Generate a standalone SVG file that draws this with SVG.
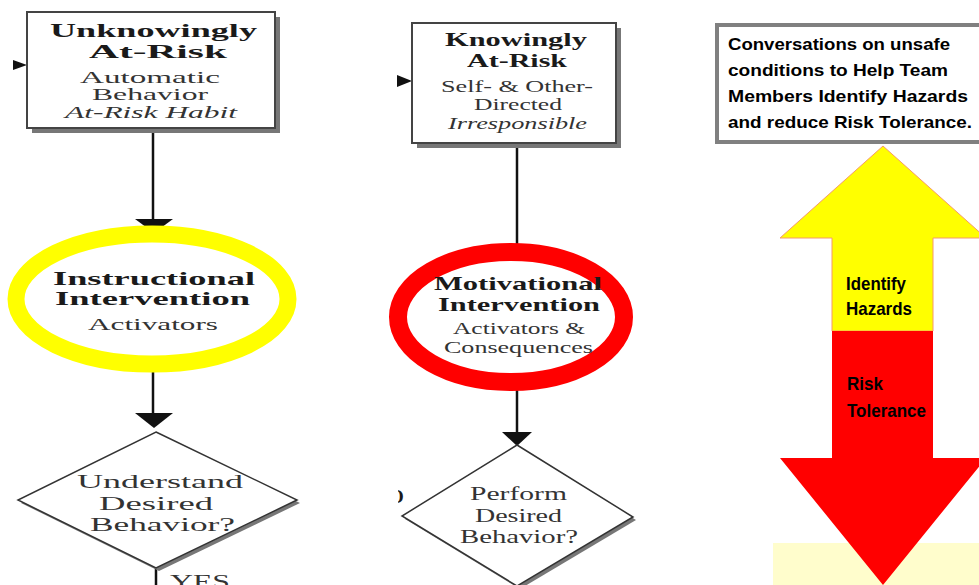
<svg xmlns="http://www.w3.org/2000/svg" width="979" height="585" viewBox="0 0 979 585">
<style>
.sb{font-family:"Liberation Serif","Times New Roman",serif;font-weight:bold;font-size:19px;fill:#1a1a1a}
.sr{font-family:"Liberation Serif","Times New Roman",serif;font-size:16px;fill:#333}
.si{font-family:"Liberation Serif","Times New Roman",serif;font-style:italic;font-size:16px;fill:#333}
.sd{font-family:"Liberation Serif","Times New Roman",serif;font-size:19px;fill:#333}
.cb{font-family:"Liberation Sans",Arial,sans-serif;font-weight:bold;font-size:17px;fill:#000}
.ab{font-family:"Liberation Sans",Arial,sans-serif;font-weight:bold;font-size:19px;fill:#000}
.box{fill:#fff;stroke:#444;stroke-width:2}
.shadow{fill:#777}
.dia{fill:#fff;stroke:#333;stroke-width:1.5}
.conn{stroke:#111;stroke-width:2.5;fill:none}
.head{fill:#111}
</style>
<defs>
<clipPath id="clipO"><rect x="398" y="470" width="40" height="50"/></clipPath>
</defs>
<rect width="979" height="585" fill="#fff"/>

<g id="connectors">
<line class="conn" x1="153" y1="132" x2="153" y2="222"/>
<polygon class="head" points="135,219 173,219 154,233"/>
<line class="conn" x1="153" y1="370" x2="153" y2="415"/>
<polygon class="head" points="135,413 173,413 154,428"/>
<line class="conn" x1="156" y1="568" x2="156" y2="585"/>
<line class="conn" x1="517" y1="145" x2="517" y2="252"/>
<line class="conn" x1="517" y1="390" x2="517" y2="434"/>
<polygon class="head" points="502,432 532,432 517,446"/>
<polygon class="head" points="13,60 13,70 27,65"/>
<polygon class="head" points="397,75 397,87 412,81"/>
</g>

<g id="node-unknowingly">
<rect class="shadow" x="32" y="17" width="248" height="116"/>
<rect class="box" x="27" y="12" width="248" height="116"/>
<text class="sb" x="50" y="37" textLength="207" lengthAdjust="spacingAndGlyphs">Unknowingly</text>
<text class="sb" x="89" y="58" textLength="138" lengthAdjust="spacingAndGlyphs">At-Risk</text>
<text class="sr" x="80" y="83" textLength="140" lengthAdjust="spacingAndGlyphs">Automatic</text>
<text class="sr" x="92" y="100" textLength="116" lengthAdjust="spacingAndGlyphs">Behavior</text>
<text class="si" x="65" y="118" textLength="172" lengthAdjust="spacingAndGlyphs">At-Risk Habit</text>
</g>

<g id="node-knowingly">
<rect class="shadow" x="417" y="28" width="204" height="120"/>
<rect class="box" x="412" y="23" width="204" height="120"/>
<text class="sb" x="445" y="46" textLength="142" lengthAdjust="spacingAndGlyphs">Knowingly</text>
<text class="sb" x="467" y="67" textLength="100" lengthAdjust="spacingAndGlyphs">At-Risk</text>
<text class="sr" x="441" y="92" textLength="152" lengthAdjust="spacingAndGlyphs">Self- &amp; Other-</text>
<text class="sr" x="474" y="110" textLength="88" lengthAdjust="spacingAndGlyphs">Directed</text>
<text class="si" x="448" y="129" textLength="139" lengthAdjust="spacingAndGlyphs">Irresponsible</text>
</g>

<g id="node-instructional">
<ellipse cx="152" cy="299" rx="136" ry="65" fill="#fff" stroke="#ffff00" stroke-width="17"/>
<text class="sb" x="53" y="285" textLength="202" lengthAdjust="spacingAndGlyphs">Instructional</text>
<text class="sb" x="55" y="305" textLength="195" lengthAdjust="spacingAndGlyphs">Intervention</text>
<text class="sr" x="88" y="330" textLength="130" lengthAdjust="spacingAndGlyphs">Activators</text>
</g>

<g id="node-motivational">
<ellipse cx="511" cy="317" rx="113" ry="65" fill="#fff" stroke="#ff0000" stroke-width="18"/>
<text class="sb" x="434" y="290" textLength="168" lengthAdjust="spacingAndGlyphs">Motivational</text>
<text class="sb" x="438" y="311" textLength="162" lengthAdjust="spacingAndGlyphs">Intervention</text>
<text class="sr" x="453" y="334" textLength="132" lengthAdjust="spacingAndGlyphs">Activators &amp;</text>
<text class="sr" x="444" y="353" textLength="149" lengthAdjust="spacingAndGlyphs">Consequences</text>
</g>

<g id="node-understand">
<polygon class="shadow" points="159,435 300,503 159,571 21,503"/>
<polygon class="dia" points="156,432 297,500 156,568 18,500"/>
<text class="sd" x="77" y="488" textLength="166" lengthAdjust="spacingAndGlyphs">Understand</text>
<text class="sd" x="99" y="510" textLength="114" lengthAdjust="spacingAndGlyphs">Desired</text>
<text class="sd" x="90" y="531" textLength="145" lengthAdjust="spacingAndGlyphs">Behavior?</text>
<text class="sd" x="170" y="588" textLength="60" lengthAdjust="spacingAndGlyphs">YES</text>
</g>

<g id="node-perform">
<polygon class="shadow" points="520,448 636,520 520,589 405,519"/>
<polygon class="dia" points="517,445 633,517 517,586 402,516"/>
<text class="sd" x="470" y="500" textLength="97" lengthAdjust="spacingAndGlyphs">Perform</text>
<text class="sd" x="475" y="522" textLength="87" lengthAdjust="spacingAndGlyphs">Desired</text>
<text class="sd" x="460" y="543" textLength="118" lengthAdjust="spacingAndGlyphs">Behavior?</text>
<text class="sb" x="389" y="503" clip-path="url(#clipO)">O</text>
</g>

<g id="node-conversations">
<rect x="717" y="25" width="270" height="117" fill="#fff" stroke="#808080" stroke-width="4"/>
<text class="cb" x="728" y="50" textLength="222" lengthAdjust="spacingAndGlyphs">Conversations on unsafe</text>
<text class="cb" x="728" y="76" textLength="220" lengthAdjust="spacingAndGlyphs">conditions to Help Team</text>
<text class="cb" x="728" y="102" textLength="240" lengthAdjust="spacingAndGlyphs">Members Identify Hazards</text>
<text class="cb" x="728" y="128" textLength="244" lengthAdjust="spacingAndGlyphs">and reduce Risk Tolerance.</text>
</g>

<g id="node-arrows">
<rect x="773" y="543" width="206" height="42" fill="#fffdcc"/>
<polygon points="883,146 986,238 933,238 933,331 832,331 832,238 780,238" fill="#ffff00" stroke="#f59a6a" stroke-width="1"/>
<polygon points="832,331 933,331 933,458 986,458 883,585 780,458 832,458" fill="#ff0000"/>
<text class="ab" x="846" y="290" textLength="60" lengthAdjust="spacingAndGlyphs">Identify</text>
<text class="ab" x="846" y="315" textLength="66" lengthAdjust="spacingAndGlyphs">Hazards</text>
<text class="ab" x="847" y="390" textLength="36" lengthAdjust="spacingAndGlyphs">Risk</text>
<text class="ab" x="847" y="417" textLength="79" lengthAdjust="spacingAndGlyphs">Tolerance</text>
</g>
</svg>
